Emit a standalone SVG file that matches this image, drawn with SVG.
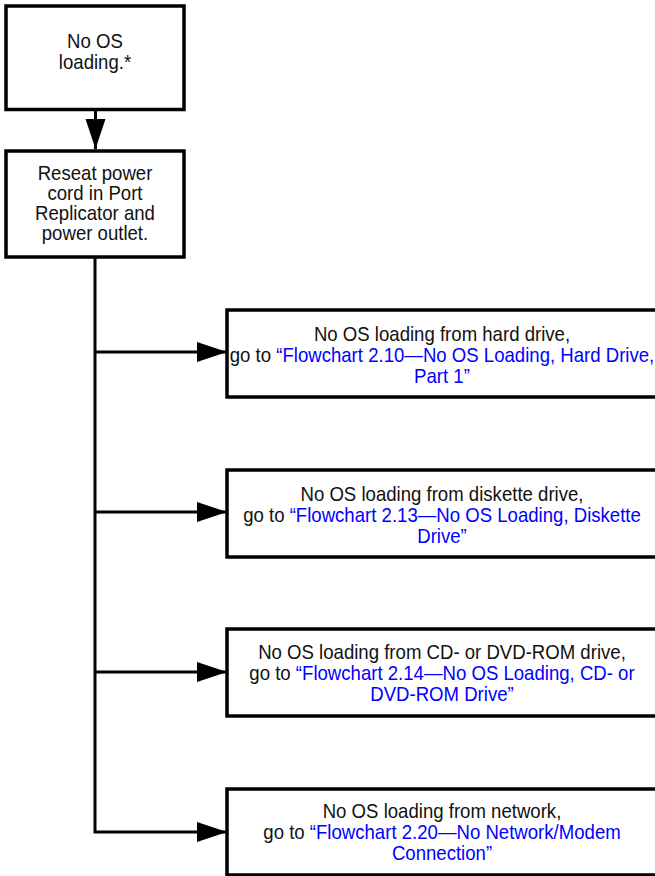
<svg xmlns="http://www.w3.org/2000/svg" width="655" height="876" viewBox="0 0 655 876">
<defs>
<style>
.box{fill:#fff;stroke:#000;stroke-width:3.5}
.t{font-family:"Liberation Sans",Arial,sans-serif;font-size:20px;fill:#111;text-anchor:middle}
.l{fill:#0000ff}
.c{fill:none;stroke:#000;stroke-width:3}
</style>
<marker id="ah" markerUnits="userSpaceOnUse" markerWidth="32" markerHeight="22" refX="30" refY="10" orient="auto" viewBox="0 0 32 22">
<path d="M0,0 L30,10 L0,20 Z" fill="#000"/>
</marker>
</defs>
<rect width="655" height="876" fill="#fff"/>
<g id="connectors">
<line class="c" x1="95.5" y1="110" x2="95.5" y2="149" marker-end="url(#ah)"/>
<polyline class="c" points="95,258 95,832 227,832" marker-end="url(#ah)"/>
<line class="c" x1="95" y1="352" x2="227" y2="352" marker-end="url(#ah)"/>
<line class="c" x1="95" y1="512" x2="227" y2="512" marker-end="url(#ah)"/>
<line class="c" x1="95" y1="672" x2="227" y2="672" marker-end="url(#ah)"/>
</g>
<g id="n1">
<rect class="box" x="6" y="6" width="178" height="103.5"/>
<text class="t" transform="matrix(0.93 0 0 1 95 0)"><tspan x="0" y="48">No OS</tspan><tspan x="0" y="69">loading.*</tspan></text>
</g>
<g id="n2">
<rect class="box" x="6" y="151" width="178" height="106"/>
<text class="t" transform="matrix(0.93 0 0 1 95 0)"><tspan x="0" y="180">Reseat power</tspan><tspan x="0" y="200">cord in Port</tspan><tspan x="0" y="220">Replicator and</tspan><tspan x="0" y="240">power outlet.</tspan></text>
</g>
<g id="n3">
<rect class="box" x="227" y="310" width="440" height="87"/>
<text class="t" transform="matrix(0.93 0 0 1 442 0)"><tspan x="0" y="341">No OS loading from hard drive,</tspan><tspan x="0" y="362">go to <tspan class="l">“Flowchart 2.10—No OS Loading, Hard Drive,</tspan></tspan><tspan x="0" y="383" class="l">Part 1”</tspan></text>
</g>
<g id="n4">
<rect class="box" x="227" y="470" width="440" height="87"/>
<text class="t" transform="matrix(0.93 0 0 1 442 0)"><tspan x="0" y="501">No OS loading from diskette drive,</tspan><tspan x="0" y="522">go to <tspan class="l">“Flowchart 2.13—No OS Loading, Diskette</tspan></tspan><tspan x="0" y="543" class="l">Drive”</tspan></text>
</g>
<g id="n5">
<rect class="box" x="227" y="629" width="440" height="87"/>
<text class="t" transform="matrix(0.93 0 0 1 442 0)"><tspan x="0" y="659">No OS loading from CD- or DVD-ROM drive,</tspan><tspan x="0" y="680">go to <tspan class="l">“Flowchart 2.14—No OS Loading, CD- or</tspan></tspan><tspan x="0" y="701" class="l">DVD-ROM Drive”</tspan></text>
</g>
<g id="n6">
<rect class="box" x="227" y="789" width="440" height="86"/>
<text class="t" transform="matrix(0.93 0 0 1 442 0)"><tspan x="0" y="818">No OS loading from network,</tspan><tspan x="0" y="839">go to <tspan class="l">“Flowchart 2.20—No Network/Modem</tspan></tspan><tspan x="0" y="860" class="l">Connection”</tspan></text>
</g>
</svg>
